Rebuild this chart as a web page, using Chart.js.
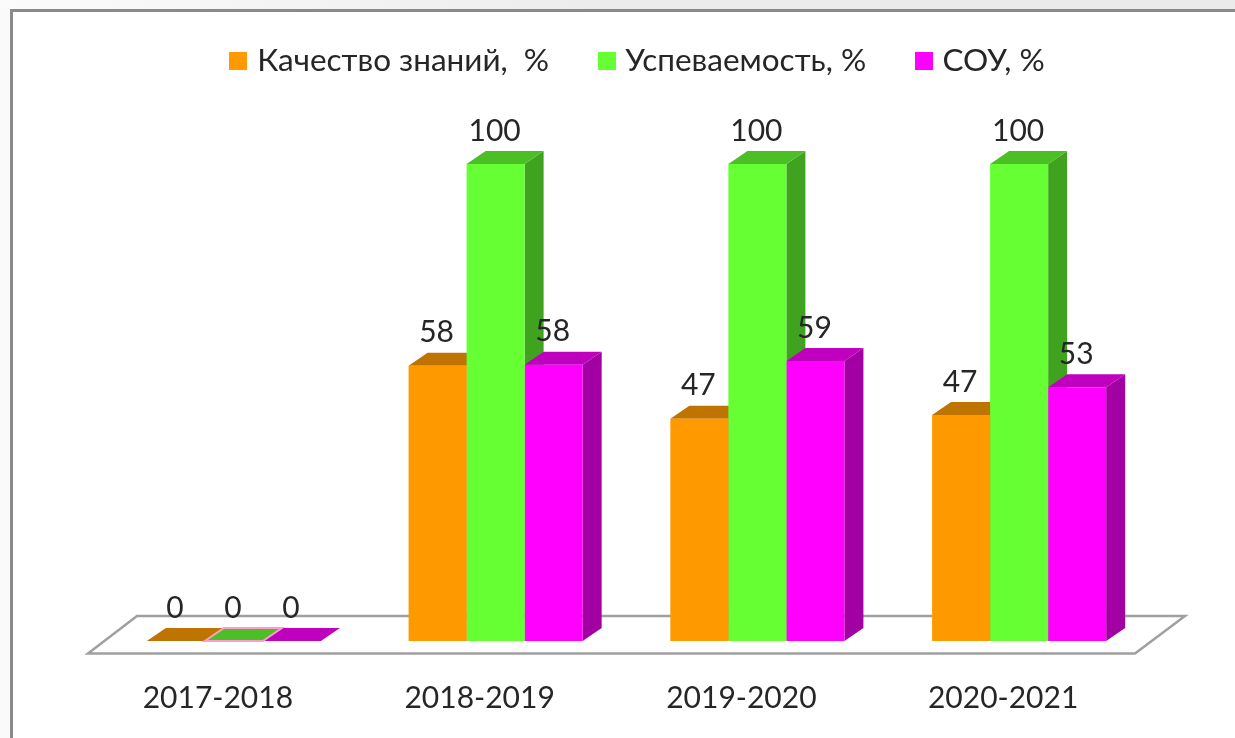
<!DOCTYPE html>
<html lang="ru">
<head>
<meta charset="utf-8">
<title>Chart</title>
<script src="https://cdn.jsdelivr.net/npm/chart.js@4"></script>
<style>
html,body{margin:0;padding:0;width:1235px;height:738px;overflow:hidden;background:#fafafa}
#strip{position:absolute;left:0;top:0;width:1235px;height:9px;background:linear-gradient(90deg,#fbfbfb,#ececec 50%,#ebebeb)}
#frame{position:absolute;left:10px;top:9px;right:0;bottom:0;background:#fff;border-left:3px solid #8a8a8a;border-top:3px solid #8a8a8a}
#wrap{position:absolute;left:0;top:0;width:1235px;height:738px}
</style>
</head>
<body>
<div id="strip"></div>
<div id="frame"></div>
<div id="wrap"><canvas id="c" width="1235" height="738"></canvas></div>
<script>
const categories = ['2017-2018', '2018-2019', '2019-2020', '2020-2021'];
const seriesNames = ['Качество знаний,  %', 'Успеваемость, %', 'СОУ, %'];
const quality = [0, 57.7, 46.6, 47.4];
const progress = [0, 100, 100, 100];
const sou = [0, 57.9, 58.7, 53.2];

const fronts = ['#ff9900', '#66ff33', '#ff00ff'];
const tops = ['#bf7300', '#4cbf26', '#bf00bf'];
const sides = ['#a36200', '#40a320', '#a300a3'];
const TEXT = '#262626';
const FONT = 'Lato';
const DX = 19, DY = 13;

function poly(ctx, pts, fill) {
  ctx.beginPath();
  pts.forEach((p, i) => i ? ctx.lineTo(p[0], p[1]) : ctx.moveTo(p[0], p[1]));
  ctx.closePath();
  ctx.fillStyle = fill;
  ctx.fill();
}

function swatch(color) {
  const s = document.createElement('canvas');
  s.width = 18; s.height = 18;
  const x = s.getContext('2d');
  x.fillStyle = color;
  x.fillRect(0, 0, 18, 18);
  return s;
}
const swatches = fronts.map(swatch);

const bars3d = {
  id: 'bars3d',
  beforeLayout(chart) {
    const lg = chart.legend;
    if (lg && !lg._patched) {
      const f = lg.fit;
      lg.fit = function () { f.call(this); this.height = 173.5; };
      lg._patched = true;
    }
  },
  afterLayout(chart) {
    const lg = chart.legend;
    if (lg) { lg.left += 13.6; lg.right += 13.6; }
  },
  beforeDatasetsDraw(chart) {
    const ctx = chart.ctx, a = chart.chartArea;
    ctx.save();
    // floor
    ctx.beginPath();
    ctx.moveTo(a.left - 15, a.bottom + 12.5);
    ctx.lineTo(a.left + 34, a.bottom - 25);
    ctx.lineTo(a.right + 35, a.bottom - 25);
    ctx.lineTo(a.right - 15, a.bottom + 12.5);
    ctx.closePath();
    ctx.fillStyle = '#ffffff';
    ctx.fill();
    ctx.strokeStyle = '#a0a0a0';
    ctx.lineWidth = 2.5;
    ctx.stroke();
    // side and top faces, behind the fronts
    chart.data.datasets.forEach((ds, d) => {
      chart.getDatasetMeta(d).data.forEach((el) => {
        const p = el.getProps(['x', 'y', 'base', 'width'], true);
        const l = p.x - p.width / 2, r = p.x + p.width / 2;
        poly(ctx, [[r, p.y], [r + DX, p.y - DY], [r + DX, p.base - DY], [r, p.base]], sides[d]);
        poly(ctx, [[l, p.y], [l + DX, p.y - DY], [r + DX, p.y - DY], [r, p.y]], tops[d]);
      });
    });
    // the flat middle bar of the empty year has a pink outline
    chart.getDatasetMeta(1).data.forEach((el, i) => {
      if (chart.data.datasets[1].data[i] !== 0) return;
      const p = el.getProps(['x', 'y', 'width'], true);
      const l = p.x - p.width / 2, r = p.x + p.width / 2;
      ctx.beginPath();
      ctx.moveTo(l, p.y);
      ctx.lineTo(l + DX, p.y - DY);
      ctx.lineTo(r + DX, p.y - DY);
      ctx.lineTo(r, p.y);
      ctx.closePath();
      ctx.strokeStyle = '#ff9ccf';
      ctx.lineWidth = 2;
      ctx.stroke();
    });
    ctx.restore();
  },
  afterDatasetsDraw(chart) {
    const ctx = chart.ctx;
    ctx.save();
    ctx.font = '30px ' + FONT;
    ctx.fillStyle = TEXT;
    ctx.textAlign = 'center';
    ctx.textBaseline = 'middle';
    chart.data.datasets.forEach((ds, d) => {
      chart.getDatasetMeta(d).data.forEach((el, i) => {
        const p = el.getProps(['x', 'y'], true);
        ctx.fillText(String(Math.round(ds.data[i])), p.x - 1, p.y - 33);
      });
    });
    ctx.restore();
  }
};

new Chart(document.getElementById('c'), {
  type: 'bar',
  data: {
    labels: categories,
    datasets: [quality, progress, sou].map((v, i) => ({
      label: seriesNames[i],
      data: v,
      backgroundColor: fronts[i],
      borderWidth: 0,
      categoryPercentage: 0.665,
      barPercentage: 1
    }))
  },
  options: {
    responsive: false,
    animation: false,
    layout: { padding: { left: 103, right: 85, top: -9.5, bottom: 0 } },
    plugins: {
      tooltip: { enabled: false },
      legend: {
        display: true,
        position: 'top',
        align: 'center',
        labels: {
          font: { family: FONT, size: 31.5 },
          color: TEXT,
          usePointStyle: true,
          boxWidth: 6,
          boxHeight: 18,
          padding: 54.5,
          generateLabels(chart) {
            return Chart.defaults.plugins.legend.labels.generateLabels(chart)
              .map((it, i) => Object.assign(it, { pointStyle: swatches[i] }));
          }
        }
      }
    },
    scales: {
      x: {
        grid: { display: false, drawTicks: false },
        border: { display: false },
        afterFit(s) { s.height = 97; },
        ticks: {
          font: { family: FONT, size: 30 },
          color: TEXT,
          padding: 39,
          labelOffset: -16,
          maxRotation: 0,
          autoSkip: false
        }
      },
      y: { display: false, min: 0, max: 100 }
    }
  },
  plugins: [bars3d]
});
</script>
</body>
</html>
